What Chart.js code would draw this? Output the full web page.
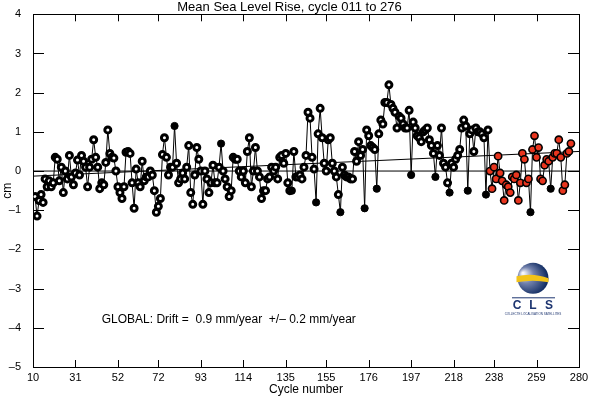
<!DOCTYPE html>
<html>
<head>
<meta charset="utf-8">
<script src="https://cdn.jsdelivr.net/npm/chart.js@4.4.1/dist/chart.umd.min.js"></script>
<style>
  html, body { margin: 0; padding: 0; background: #fff; }
</style>
</head>
<body>
<canvas id="msl" width="589" height="397"></canvas>
<script>
// mean sea level per cycle (cm), cycles 11 .. 276
const firstCycle = 11;
const seaLevel = [
  -0.65, -1.15, -0.75, -0.6, -0.8, -0.2, -0.4, -0.25, -0.4, -0.3,
  0.35, 0.3, -0.25, 0.1, -0.55, 0.0, -0.2, 0.4, -0.15, -0.35,
  -0.05, 0.28, -0.1, 0.4, 0.25, 0.1, -0.4, 0.1, 0.3, 0.8,
  0.35, 0.1, -0.45, -0.3, -0.35, 0.22, 1.05, 0.45, 0.35, 0.33,
  0.0, -0.4, -0.55, -0.7, -0.4, 0.48, 0.5, 0.45, -0.3, -0.95,
  0.05, -0.3, -0.4, 0.25, -0.25, -0.15, -0.15, 0.0, -0.1, -0.5,
  -1.05, -0.9, -0.7, 0.42, 0.85, 0.35, -0.1, 0.1, 0.1, 1.15,
  0.2, -0.3, -0.2, -0.05, -0.2, 0.1, 0.65, -0.55, -0.85, -0.1,
  0.6, 0.3, 0.0, -0.85, 0.0, -0.2, -0.55, -0.3, 0.15, -0.3,
  -0.3, 0.1, 0.7, 0.0, -0.2, -0.4, -0.65, -0.5, 0.35, 0.3,
  0.3, 0.0, -0.15, 0.0, -0.3, 0.5, 0.85, -0.4, 0.0, 0.6,
  0.0, -0.15, -0.7, -0.5, -0.5, -0.2, -0.15, 0.1, 0.0, 0.1,
  -0.2, 0.35, 0.4, 0.2, 0.45, -0.3, -0.5, -0.5, 0.5, -0.15,
  -0.15, -0.1, -0.2, 0.1, 0.4, 1.5, 1.35, 0.35, 0.05, -0.8,
  0.95, 1.6, 0.85, 0.2, 0.0, 0.8, 0.85, 0.2, 0.0, -0.15,
  -0.6, -1.05, 0.1, -0.1, -0.15, -0.15, -0.2, -0.2, 0.5, 0.25,
  0.75, 0.4, 0.55, -0.95, 1.05, 0.9, 0.65, 0.6, 0.55, -0.45,
  0.95, 1.3, 1.2, 1.75, 1.75, 2.2, 1.7, 1.6, 1.5, 1.1,
  1.4, 1.35, 1.2, 1.1, 1.1, 1.55, -0.1, 1.25, 1.1, 0.9,
  0.85, 0.75, 1.0, 1.05, 1.1, 0.8, 0.65, 0.45, -0.15, 0.65,
  0.4, 1.1, 0.2, 0.1, -0.3, -0.55, 0.2, 0.1, 0.3, 0.4,
  0.55, 1.1, 1.3, 1.15, -0.5, 0.95, 1.05, 0.5, 1.1, 1.0,
  1.0, 0.95, 0.85, -0.6, 1.05, 0.0, -0.45, 0.1, -0.2, 0.38,
  -0.05, -0.25, -0.75, -0.35, -0.4, -0.55, -0.15, -0.2, -0.1, -0.75,
  -0.3, 0.45, 0.3, -0.3, -0.2, -1.05, 0.55, 0.9, 0.35, 0.6,
  -0.2, -0.25, 0.15, 0.3, 0.25, -0.45, 0.35, 0.45, 0.45, 0.8,
  0.35, -0.5, -0.35, 0.45, 0.5, 0.7
];
// cycles drawn as solid black dots, and first cycle of the red (recent) part
const filledCycles = [80, 103, 138, 150, 162, 174, 180, 197, 209, 216, 225, 234, 256, 266];
const redFromCycle = 236;

// drift line and zero line, given at both ends of the x range
const lineCycles = [10, 280];
const trendLine = [-0.13, 0.50];
const zeroLine = [0, 0];

const xTicks = [10, 31, 52, 72, 93, 114, 135, 155, 176, 197, 218, 238, 259, 280];
const yTicks = [-5, -4, -3, -2, -1, 0, 1, 2, 3, 4];

const titleText = 'Mean Sea Level Rise, cycle 011 to 276';
const driftText = 'GLOBAL: Drift =  0.9 mm/year  +/\u2013 0.2 mm/year';
const driftPos = [44, -3.8];

const SANS = "'Liberation Sans', Arial, Helvetica, sans-serif";

const points = seaLevel.map((v, i) => ({ x: firstCycle + i, y: v }));
const pairs = ys => lineCycles.map((x, i) => ({ x, y: ys[i] }));

function kind(ctx) {
  const cyc = firstCycle + ctx.dataIndex;
  if (filledCycles.includes(cyc)) return 'filled';
  if (cyc >= redFromCycle) return 'red';
  return 'open';
}
const markerFill = ctx => ({ filled: '#000', red: '#e8351e', open: '#fff' })[kind(ctx)];
const markerSize = ctx => ({ filled: 3.6, red: 3.6, open: 3 })[kind(ctx)];
const markerEdge = ctx => ({ filled: 1, red: 1.6, open: 3 })[kind(ctx)];

// box round the plot with inward ticks on all four sides
const framePlugin = {
  id: 'frame',
  beforeDatasetsDraw(chart) {
    const { ctx, chartArea: a, scales: { x, y } } = chart;
    ctx.save();
    ctx.strokeStyle = '#000';
    ctx.lineWidth = 1;
    ctx.strokeRect(Math.round(a.left) + 0.5, Math.round(a.top) + 0.5,
      Math.round(a.right - a.left), Math.round(a.bottom - a.top));
    ctx.beginPath();
    xTicks.forEach(v => {
      const px = Math.round(x.getPixelForValue(v)) + 0.5;
      ctx.moveTo(px, a.bottom); ctx.lineTo(px, a.bottom - 7);
      ctx.moveTo(px, a.top); ctx.lineTo(px, a.top + 7);
    });
    yTicks.forEach(v => {
      const py = Math.round(y.getPixelForValue(v)) + 0.5;
      ctx.moveTo(a.left, py); ctx.lineTo(a.left + 11, py);
      ctx.moveTo(a.right, py); ctx.lineTo(a.right - 11, py);
    });
    ctx.stroke();
    ctx.restore();
  }
};

const driftPlugin = {
  id: 'drift',
  afterDatasetsDraw(chart) {
    const { ctx, scales: { x, y } } = chart;
    ctx.save();
    ctx.fillStyle = '#000';
    ctx.font = '12px ' + SANS;
    ctx.textAlign = 'left';
    ctx.textBaseline = 'middle';
    ctx.fillText(driftText, x.getPixelForValue(driftPos[0]), y.getPixelForValue(driftPos[1]));
    ctx.restore();
  }
};

// small CLS logo in the lower right corner
const logoPlugin = {
  id: 'logo',
  afterDraw(chart) {
    const { ctx, chartArea: a } = chart;
    const cx = a.right - 46, cy = a.top + 264, r = 15.5;
    ctx.save();
    const g = ctx.createRadialGradient(cx - 10, cy - 5, 1, cx - 3, cy, r + 3);
    g.addColorStop(0, '#f4f5fa');
    g.addColorStop(0.4, '#7382ad');
    g.addColorStop(1, '#0b275e');
    ctx.fillStyle = g;
    ctx.beginPath(); ctx.arc(cx, cy, r, 0, Math.PI * 2); ctx.fill();
    ctx.fillStyle = '#f2c318';
    ctx.beginPath();
    ctx.moveTo(cx - r - 1, cy - 2);
    ctx.quadraticCurveTo(cx, cy - 6, cx + r, cy);
    ctx.lineTo(cx + r, cy + 4);
    ctx.quadraticCurveTo(cx, cy + 1, cx - r - 1, cy + 4);
    ctx.closePath(); ctx.fill();
    ctx.strokeStyle = '#1d3570';
    ctx.lineWidth = 1;
    ctx.beginPath(); ctx.moveTo(cx - 21, cy + 19.5); ctx.lineTo(cx + 22, cy + 19.5); ctx.stroke();
    ctx.fillStyle = '#1d3570';
    ctx.font = 'bold 12px ' + SANS;
    ctx.textAlign = 'center';
    ctx.textBaseline = 'middle';
    ctx.fillText('C', cx - 16, cy + 27);
    ctx.fillText('L', cx, cy + 27);
    ctx.fillText('S', cx + 16, cy + 27);
    ctx.font = '3px ' + SANS;
    ctx.fillText('COLLECTE LOCALISATION SATELLITES', cx, cy + 36);
    ctx.restore();
  }
};

const tickFont = { family: SANS, size: 11 };

new Chart(document.getElementById('msl'), {
  type: 'line',
  data: {
    datasets: [
      {
        data: points,
        borderColor: '#000', borderWidth: 1, tension: 0,
        pointRadius: markerSize, pointBorderWidth: markerEdge, pointBorderColor: '#000',
        pointBackgroundColor: markerFill,
      },
      { data: pairs(trendLine), borderColor: '#000', borderWidth: 1, pointRadius: 0 },
      { data: pairs(zeroLine), borderColor: '#000', borderWidth: 1, pointRadius: 0 },
    ],
  },
  options: {
    responsive: false,
    animation: false,
    devicePixelRatio: 1,
    layout: { padding: { left: 0, right: 10, top: 0, bottom: 0 } },
    plugins: {
      legend: { display: false },
      tooltip: { enabled: false },
      title: {
        display: true, text: titleText, color: '#000',
        font: { family: SANS, size: 13, weight: 'normal', lineHeight: 1.1 },
        padding: { top: 0, bottom: 0 },
      },
    },
    scales: {
      x: {
        type: 'linear', min: 10, max: 280,
        afterBuildTicks: s => { s.ticks = xTicks.map(v => ({ value: v })); },
        afterFit: s => { s.height = 30; },
        grid: { display: false }, border: { display: false },
        ticks: { color: '#000', font: tickFont, padding: -4, maxRotation: 0, autoSkip: false },
        title: { display: true, text: 'Cycle number', color: '#000', font: { family: SANS, size: 12 }, padding: 0 },
      },
      y: {
        type: 'linear', min: -5, max: 4,
        afterBuildTicks: s => { s.ticks = yTicks.map(v => ({ value: v })); },
        afterFit: s => { s.width = 33; },
        grid: { display: false }, border: { display: false },
        ticks: {
          color: '#000', font: tickFont, padding: 4,
          callback: v => (v < 0 ? '\u2013' + Math.abs(v) : String(v)),
        },
        title: { display: true, text: 'cm', color: '#000', font: { family: SANS, size: 12 }, padding: 0 },
      },
    },
  },
  plugins: [framePlugin, driftPlugin, logoPlugin],
});
</script>
</body>
</html>
